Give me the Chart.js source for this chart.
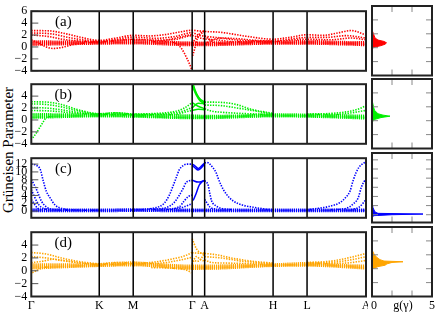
<!DOCTYPE html>
<html>
<head>
<meta charset="utf-8">
<script src="https://cdn.jsdelivr.net/npm/chart.js@4.4.1/dist/chart.umd.min.js"></script>
<style>
  body { margin: 0; background: #fff; width: 436px; height: 312px; position: relative; overflow: hidden; font-family: "Liberation Serif", serif; }
  canvas { position: absolute; }
  #ytitle { position: absolute; left: 8px; top: 150px; transform: translate(-50%, -50%) rotate(-90deg); font-size: 15px; white-space: nowrap; color: #000; }
</style>
</head>
<body>
<div id="ytitle">Grüneisen Parameter</div>
<canvas id="pa" width="368" height="82" style="left:0;top:0"></canvas>
<canvas id="pb" width="368" height="82" style="left:0;top:73px"></canvas>
<canvas id="pc" width="368" height="82" style="left:0;top:147px"></canvas>
<canvas id="pd" width="368" height="91" style="left:0;top:221px"></canvas>
<canvas id="sa" width="70" height="82" style="left:366px;top:0"></canvas>
<canvas id="sb" width="70" height="82" style="left:366px;top:73px"></canvas>
<canvas id="sc" width="70" height="82" style="left:366px;top:147px"></canvas>
<canvas id="sd" width="70" height="91" style="left:366px;top:221px"></canvas>
<script>
// high-symmetry path  Γ-K-M-Γ-A-H-L-A
const kPath = [0, 68, 102, 161, 173.5, 242, 276, 335];
const kLabels = ['Γ', 'K', 'M', 'Γ', 'A', 'H', 'L', 'A'];

const ticksStd = [-4, -2, 0, 2, 4, 6];
const ticksBlue = [0, 2, 4, 6, 8, 10, 12];
const gTicks = [2, 4];
const gLabelPos = [0.2, 3.1, 6];
const gLabels = ['0', 'g(γ)', '5'];

// (a) red  [k, gamma]
const redDotted = [
  [[0,2.75],[18,2.7],[35,2.2],[50,1.6],[68,1.1],[85,1.5],[102,1.95],[118,1.85],[135,2.1],[150,2.55],[161,2.8],[167,2.7],[173.5,2.6],[190,2.45],[215,1.8],[242,1.3],[258,1.6],[276,2.05],[292,1.95],[308,2.4],[320,2.75],[335,2.0]],
  [[0,2.35],[20,2.2],[40,1.5],[68,0.95],[85,1.25],[102,1.65],[125,1.45],[145,1.8],[161,2.4],[167,2.0],[173.5,1.8],[185,1.6],[210,1.1],[242,1.0],[258,1.3],[276,1.6],[295,1.6],[315,1.9],[335,1.5]],
  [[0,2.0],[15,1.8],[35,1.2],[68,0.85],[102,1.3],[125,1.15],[145,1.3],[161,1.9],[167,1.6],[173.5,1.35],[185,1.2],[205,0.85],[242,0.9],[276,1.3],[300,1.2],[320,1.5],[335,1.2]],
  [[0,1.2],[8,0.6],[15,0.0],[22,-0.25],[30,-0.1],[42,0.4],[55,0.7],[68,0.85]],
  [[120,0.9],[138,0.85],[146,0.5],[150,-0.2],[153,-1.0],[156,-2.0],[158.5,-2.9],[160.5,-3.8]],
  [[161.5,-1.5],[163.5,-0.3],[166,1.3],[169,2.1],[173.5,2.5]],
  [[161,0.6],[165,1.5],[169,2.3],[173.5,2.7]],
  [[130,1.0],[145,1.5],[155,1.9],[161,2.1]],
  [[173.5,1.9],[178,1.3],[184,0.7],[195,0.6]],
  [[173.5,0.5],[180,1.1],[190,1.5],[205,1.4],[225,1.1],[242,1.0]]
];
const redBundle = [
  [[0,0.95],[34,0.9],[68,0.85],[85,1.05],[102,1.2],[130,0.95],[161,0.75],[173.5,0.75],[210,0.8],[242,0.85],[276,1.0],[310,0.85],[335,0.8]],
  [[0,0.75],[68,0.75],[102,0.95],[130,0.7],[161,0.6],[173.5,0.6],[242,0.75],[276,0.8],[335,0.6]],
  [[0,0.55],[68,0.65],[102,0.75],[161,0.45],[173.5,0.45],[242,0.65],[276,0.65],[335,0.45]],
  [[0,0.35],[68,0.55],[102,0.6],[161,0.3],[173.5,0.3],[242,0.55],[276,0.55],[335,0.3]]
];

// (b) green
const greenDotted = [
  [[0,3.05],[15,3.0],[30,2.6],[45,1.8],[60,1.2],[68,1.05],[85,1.2],[102,1.0],[125,1.1],[143,1.4],[152,1.9],[161,2.9]],
  [[0,2.7],[15,2.6],[30,2.2],[45,1.6],[68,1.0],[102,0.95],[130,1.0],[150,1.4],[161,2.1]],
  [[0,2.1],[15,2.0],[30,1.7],[50,1.2],[68,0.9],[102,0.85],[140,0.9],[161,1.6]],
  [[0,1.6],[20,1.5],[40,1.2],[68,0.85]],
  [[1.5,-3.0],[5,-2.2],[8.5,-1.25],[12,-0.3],[15,0.4],[22,0.6]],
  [[173.5,3.0],[190,2.95],[205,2.6],[220,1.8],[242,1.1]],
  [[173.5,2.5],[190,2.4],[210,1.9],[242,1.0]],
  [[173.5,1.9],[180,1.5],[190,1.3],[210,1.1],[242,0.9]],
  [[276,1.0],[300,1.1],[320,1.5],[330,2.0],[335,2.4]],
  [[276,0.9],[310,1.0],[335,1.6]]
];
const greenSolid = [
  [[161,6.6],[164,5.0],[168,3.6],[173.5,2.6]],
  [[161,6.2],[164,4.8],[168,3.7],[173.5,3.0]],
  [[161,5.8],[165,4.2],[169,3.2],[173.5,2.8]],
  [[161,2.9],[167,2.3],[173.5,1.9]],
  [[161,2.0],[167,2.8],[173.5,2.7]],
  [[161,1.6],[167,1.8],[173.5,1.7]]
];
const greenBundle = [
  [[0,1.0],[34,0.95],[68,0.95],[85,1.15],[102,0.9],[130,0.85],[161,0.75],[173.5,0.7],[210,0.75],[242,0.95],[276,0.9],[310,0.8],[335,0.7]],
  [[0,0.75],[68,0.8],[85,0.95],[102,0.75],[161,0.55],[173.5,0.55],[242,0.8],[276,0.75],[335,0.5]],
  [[0,0.5],[68,0.7],[102,0.65],[161,0.4],[173.5,0.4],[242,0.7],[276,0.65],[335,0.35]],
  [[0,0.35],[68,0.6],[102,0.55],[161,0.3],[173.5,0.3],[242,0.6],[276,0.55],[335,0.25]]
];

// (c) blue
const blueDotted = [
  [[0,12.0],[5,11.7],[9,10.6],[12,7.7],[15,5.1],[19,3.3],[24,1.5],[32,0.6],[45,0.3],[68,0.2]],
  [[0,8.0],[4,6.2],[7,4.4],[10,2.6],[15,1.1],[22,0.4],[40,0.2]],
  [[0,5.5],[3,3.8],[6,2.2],[10,1.0],[16,0.4]],
  [[0,3.0],[3,1.8],[6,0.8],[10,0.3]],
  [[100,0.3],[125,0.9],[133,2.0],[138,4.0],[142,6.5],[145,8.5],[148,10.5],[152,11.6],[156,12.0],[161,12.0]],
  [[120,0.4],[137,1.1],[143,2.2],[148,4.0],[152,5.8],[155,7.3],[161,7.9]],
  [[130,0.4],[148,1.1],[153,2.6],[157,3.7],[161,4.1]],
  [[140,0.4],[152,1.0],[158,1.6],[161,1.9]],
  [[173.5,12.3],[176,12.4],[182,11.0],[185,9.8],[187,8.4],[190,6.6],[195,4.4],[202,2.6],[212,1.5],[222,1.0],[235,0.5],[242,0.35]],
  [[173.5,7.8],[177,6.6],[178.5,4.7],[180.5,2.6],[184,1.5],[189,0.8],[200,0.4]],
  [[173.5,3.0],[176,2.0],[179,1.0],[185,0.5]],
  [[276,0.35],[298,1.2],[309,2.2],[315,3.6],[319,5.1],[322,7.7],[325,9.8],[328,11.2],[333,12.3],[335,12.5]],
  [[300,0.4],[315,0.7],[322,1.8],[327,3.3],[330.5,6.2],[333,7.5],[335,8.0]],
  [[320,0.4],[328,1.0],[332,2.0],[335,3.0]]
];
const blueSolid = [
  [[161,12.0],[164,11.5],[167,10.9],[170,11.4],[173.5,12.3]],
  [[161,11.7],[164,11.0],[167,10.5],[170,11.0],[173.5,12.0]],
  [[161,7.9],[167,7.4],[173.5,7.8]],
  [[162,2.7],[165,4.5],[168,6.6],[171,7.5],[173.5,7.9]]
];
const blueBundle = [
  [[0,0.45],[68,0.4],[102,0.45],[161,0.4],[173.5,0.4],[242,0.4],[276,0.4],[335,0.4]],
  [[0,0.2],[68,0.2],[102,0.25],[161,0.2],[173.5,0.2],[242,0.2],[276,0.2],[335,0.2]],
  [[0,0.0],[68,0.0],[102,0.05],[161,0.0],[173.5,0.0],[242,0.0],[276,0.0],[335,0.0]]
];

// (d) orange
const orangeDotted = [
  [[0,2.85],[15,2.6],[30,2.0],[45,1.5],[60,1.2],[68,1.1],[85,1.3],[102,1.2],[120,1.3],[140,1.8],[155,2.4],[161,2.85]],
  [[0,2.2],[15,2.0],[30,1.6],[50,1.2],[68,1.0],[102,1.1],[130,1.2],[150,1.7],[161,2.1]],
  [[0,1.25],[12,1.5],[22,1.8],[32,1.6],[50,1.2],[68,1.0]],
  [[1,-0.3],[6,0.1],[12,0.5],[20,0.6]],
  [[120,0.5],[150,0.3],[157,0.0],[160,-0.3]],
  [[161,5.0],[165,3.5],[169,2.8],[173.5,2.6]],
  [[161,2.8],[167,2.75],[173.5,2.75]],
  [[161,1.6],[167,1.5],[173.5,2.7]],
  [[161,1.0],[165,2.2],[170,1.7],[173.5,1.5]],
  [[173.5,2.7],[185,2.5],[200,2.0],[220,1.5],[242,1.2]],
  [[173.5,2.2],[190,2.0],[210,1.5],[242,1.1]],
  [[173.5,1.7],[180,1.3],[195,1.2],[242,1.0]],
  [[276,1.3],[300,1.5],[320,2.1],[335,2.7]],
  [[276,1.2],[300,1.3],[320,1.7],[335,2.2]],
  [[276,1.1],[315,1.2],[335,1.6]]
];
const orangeBundle = [
  [[0,1.0],[68,1.0],[85,1.2],[102,1.3],[130,1.0],[161,0.8],[173.5,0.8],[210,0.9],[242,1.0],[276,1.2],[310,0.9],[335,0.8]],
  [[0,0.75],[68,0.9],[102,1.1],[161,0.6],[173.5,0.6],[242,0.9],[276,1.0],[335,0.6]],
  [[0,0.5],[68,0.8],[102,0.95],[161,0.45],[173.5,0.45],[242,0.8],[276,0.9],[335,0.45]],
  [[0,0.35],[68,0.75],[102,0.85],[161,0.3],[173.5,0.3],[242,0.75],[276,0.8],[335,0.35]]
];

// g(gamma) side panels  [gamma, g]
const redDos = [[-0.1,0],[0.1,0.3],[0.3,0.9],[0.5,1.3],[0.7,1.45],[0.9,1.2],[1.1,0.6],[1.4,0.3],[1.8,0.2],[2.2,0.1],[2.5,0]];
const greenDos = [[-0.2,0],[0.2,0.3],[0.45,0.9],[0.65,1.8],[0.8,1.1],[1.0,0.6],[1.5,0.25],[2.0,0.15],[3.0,0]];
const blueDos = [[-0.5,0],[-0.2,0.2],[0.0,2.0],[0.15,5.1],[0.3,0.6],[0.6,0.3],[1.5,0.1],[3.0,0]];
const orangeDos = [[0,0.1],[0.3,0.6],[0.5,1.3],[0.7,1.5],[0.9,2.0],[1.0,3.1],[1.1,1.2],[1.3,0.8],[1.6,0.5],[2.0,0.25],[2.4,0.1],[2.8,0]];

const serif = 'Liberation Serif';

const framePlugin = {
  id: 'frame',
  afterDatasetsDraw(chart, args, o) {
    const { ctx, chartArea: a, scales } = chart;
    ctx.save();
    // vertical path lines
    ctx.strokeStyle = '#000';
    ctx.lineWidth = 1.5;
    (o.vlines || []).forEach(v => {
      const px = scales.x.getPixelForValue(v);
      ctx.beginPath(); ctx.moveTo(px, a.top); ctx.lineTo(px, a.bottom); ctx.stroke();
    });
    // inward ticks
    ctx.strokeStyle = o.tickColor;
    ctx.lineWidth = 1;
    (o.yTicks || []).forEach(v => {
      const py = scales.y.getPixelForValue(v);
      ctx.beginPath(); ctx.moveTo(a.left, py); ctx.lineTo(a.left + o.len, py); ctx.stroke();
      if (o.both) { ctx.beginPath(); ctx.moveTo(a.right - o.len, py); ctx.lineTo(a.right, py); ctx.stroke(); }
    });
    (o.xTicks || []).forEach(v => {
      const px = scales.x.getPixelForValue(v);
      ctx.beginPath(); ctx.moveTo(px, a.top); ctx.lineTo(px, a.top + o.len); ctx.stroke();
      ctx.beginPath(); ctx.moveTo(px, a.bottom - o.len); ctx.lineTo(px, a.bottom); ctx.stroke();
    });
    // frame
    ctx.strokeStyle = '#222';
    ctx.lineWidth = 2;
    ctx.strokeRect(a.left, a.top, a.right - a.left, a.bottom - a.top);
    ctx.fillStyle = '#000';
    ctx.textAlign = 'center';
    ctx.textBaseline = 'middle';
    if (o.letter) {
      ctx.font = '15px "' + serif + '"';
      ctx.fillText(o.letter, a.left + 32, a.top + 11);
    }
    // bottom axis labels
    if (o.xLabels) {
      ctx.font = '12px "' + serif + '"';
      o.xLabels.forEach((t, i) => {
        ctx.fillText(t, scales.x.getPixelForValue(o.xLabelPos[i]), a.bottom + 9);
      });
    }
    ctx.restore();
  }
};
Chart.register(framePlugin);

function toPts(b) {
  return b.map(p => ({ x: p[0], y: p[1] }));
}

function lineSets(bands, color, width, dash) {
  return bands.map(b => ({
    data: toPts(b),
    showLine: true,
    borderColor: color,
    borderWidth: width,
    borderDash: dash,
    pointRadius: 0,
    fill: false,
    cubicInterpolationMode: 'monotone'
  }));
}

function makeMain(id, datasets, yMin, yMax, yTickVals, letter, showX) {
  new Chart(document.getElementById(id), {
    type: 'scatter',
    data: { datasets },
    options: {
      responsive: false, animation: false, devicePixelRatio: 1, events: [],
      layout: { autoPadding: false, padding: { left: 0, right: 2, top: 6, bottom: showX ? 15.5 : 6.5 } },
      plugins: {
        legend: { display: false }, tooltip: { enabled: false },
        frame: {
          vlines: kPath.slice(1, -1), yTicks: yTickVals, len: 7, tickColor: '#555', letter,
          xLabels: showX ? kLabels : null, xLabelPos: kPath
        }
      },
      scales: {
        x: { type: 'linear', min: 0, max: 335, display: false },
        y: {
          type: 'linear', min: yMin, max: yMax,
          grid: { display: false, drawTicks: false }, border: { display: false },
          afterBuildTicks: s => { s.ticks = yTickVals.map(v => ({ value: v })); },
          afterFit: s => { s.width = 31.3; },
          ticks: {
            autoSkip: false, padding: 4, color: '#000', font: { family: serif, size: 12 },
            callback: v => String(v).replace('-', '\u2212')
          }
        }
      }
    }
  });
}

function makeSide(id, dos, color, yMin, yMax, yTickVals, showX) {
  new Chart(document.getElementById(id), {
    type: 'line',
    data: {
      datasets: [{
        data: dos.map(p => ({ x: p[1], y: p[0] })),
        borderColor: color, backgroundColor: color, borderWidth: 1,
        pointRadius: 0, fill: 'origin', tension: 0
      }]
    },
    options: {
      indexAxis: 'y',
      responsive: false, animation: false, devicePixelRatio: 1, events: [],
      layout: { autoPadding: false, padding: { left: 6, right: 4, top: 6, bottom: showX ? 15.5 : 6.5 } },
      plugins: {
        legend: { display: false }, tooltip: { enabled: false },
        frame: {
          yTicks: yTickVals, xTicks: gTicks, both: true, len: 6, tickColor: '#888',
          xLabels: showX ? gLabels : null, xLabelPos: gLabelPos
        }
      },
      scales: {
        x: { type: 'linear', min: 0, max: 6, display: false },
        y: { type: 'linear', min: yMin, max: yMax, display: false }
      }
    }
  });
}

const dotDash = [1.4, 1.3];
const bundleDash = [1.2, 0.9];

makeMain('pa', [
  ...lineSets(redBundle, '#ff0000', 2.2, bundleDash),
  ...lineSets(redDotted, '#ff0000', 1.6, dotDash)
], -4, 6, ticksStd, '(a)', false);

makeMain('pb', [
  ...lineSets(greenBundle, '#00ee00', 2.2, bundleDash),
  ...lineSets(greenDotted, '#00ee00', 1.6, dotDash),
  ...lineSets(greenSolid, '#00ee00', 1.5, [])
], -4, 6, ticksStd.slice(0, 5), '(b)', false);

makeMain('pc', [
  ...lineSets(blueBundle, '#0000ff', 2.2, bundleDash),
  ...lineSets(blueDotted, '#0000ff', 1.6, dotDash),
  ...lineSets(blueSolid, '#0000ff', 1.5, [])
], -1.7, 13.5, ticksBlue, '(c)', false);

makeMain('pd', [
  ...lineSets(orangeBundle, '#ffa500', 2.2, bundleDash),
  ...lineSets(orangeDotted, '#ffa500', 1.6, dotDash)
], -4, 6, ticksStd.slice(0, 5), '(d)', true);

makeSide('sa', redDos, '#ff0000', -4, 6, ticksStd, false);
makeSide('sb', greenDos, '#00ee00', -4, 6, ticksStd, false);
makeSide('sc', blueDos, '#0000ff', -1.7, 13.5, ticksBlue, false);
makeSide('sd', orangeDos, '#ffa500', -4, 6, ticksStd, true);
</script>
</body>
</html>
